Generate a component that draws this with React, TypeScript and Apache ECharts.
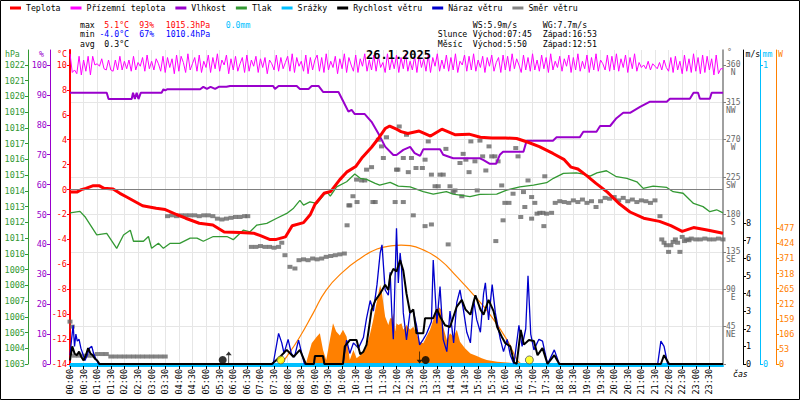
import React, { useEffect, useRef } from "react";
import * as echarts from "echarts";

const FONT = '"DejaVu Sans Mono", monospace';

// ---------- labels ----------
const legendNames = ["Teplota", "Přízemní teplota", "Vlhkost", "Tlak", "Srážky", "Rychlost větru", "Náraz větru", "Směr větru"];
const titleText = "26.1.2025";
const timeLabels = [
  "00:00", "00:30", "01:00", "01:30", "02:00", "02:30", "03:00", "03:30", "04:00", "04:30", "05:00", "05:30",
  "06:00", "06:30", "07:00", "07:30", "08:00", "08:30", "09:00", "09:30", "10:00", "10:30", "11:00", "11:30",
  "12:00", "12:30", "13:00", "13:30", "14:00", "14:30", "15:00", "15:30", "16:00", "16:30", "17:00", "17:30",
  "18:00", "18:30", "19:00", "19:30", "20:00", "20:30", "21:00", "21:30", "22:00", "22:30", "23:00", "23:30",
];
const tempTicks = [-14, -12, -10, -8, -6, -4, -2, 0, 2, 4, 6, 8, 10];
const humTicks = [0, 10, 20, 30, 40, 50, 60, 70, 80, 90, 100];
const pressTicks = [1003, 1004, 1005, 1006, 1007, 1008, 1009, 1010, 1011, 1012, 1013, 1014, 1015, 1016, 1017, 1018, 1019, 1020, 1021, 1022];
const dirTicks = [0, 45, 90, 135, 180, 225, 270, 315, 360];
const dirLabelValues = [45, 90, 135, 180, 225, 270, 315, 360];
const dirNames = ["NE", "E", "SE", "S", "SW", "W", "NW", "N"];
const windTicks = [0, 1, 2, 3, 4, 5, 6, 7, 8];
const rainTicks = [0, 1];
const solarTicks = [0, 53, 106, 159, 212, 265, 318, 371, 424, 477];

const statMax = ["5.1°C", "93%", "1015.3hPa", "0.0mm"];
const statMin = ["-4.0°C", "67%", "1010.4hPa"];
const statAvg = ["0.3°C"];
const windStats = ["WS:5.9m/s", "WG:7.7m/s"];
const sunInfo = ["Slunce", "Východ:07:45", "Západ:16:53"];
const moonInfo = ["Měsíc", "Východ:5:50", "Západ:12:51"];
const sunEvents = ["07:45", "16:53"];
const moonEvents = ["05:50", "12:51"];

// ---------- data ----------
const temperature: [string, number][] = [
  ["00:00", -0.2], ["00:15", -0.2], ["00:25", 0.0], ["00:35", 0.1], ["00:50", 0.3], ["01:05", 0.3], ["01:15", 0.1],
  ["01:35", 0.05], ["01:50", -0.3], ["02:05", -0.6], ["02:25", -1.0], ["02:40", -1.3], ["03:10", -1.5], ["03:30", -1.6],
  ["03:55", -2.0], ["04:15", -2.3], ["04:45", -2.7], ["05:15", -2.85], ["05:40", -3.4], ["06:15", -3.45], ["06:45", -3.5],
  ["07:00", -3.7], ["07:20", -4.0], ["07:35", -4.0], ["07:55", -3.8], ["08:10", -2.9], ["08:35", -2.65], ["08:50", -2.0],
  ["09:00", -1.2], ["09:20", -0.3], ["09:35", -0.15], ["09:55", 0.8], ["10:10", 1.4], ["10:30", 1.85], ["10:45", 2.6],
  ["11:05", 3.4], ["11:20", 4.1], ["11:35", 4.9], ["11:45", 5.1], ["12:00", 4.85], ["12:10", 4.65], ["12:25", 4.5],
  ["12:50", 4.7], ["13:15", 4.3], ["13:40", 4.85], ["14:10", 4.4], ["14:40", 4.45], ["15:05", 4.2], ["15:30", 4.15],
  ["16:00", 4.15], ["16:25", 4.1], ["16:50", 3.8], ["17:15", 3.45], ["17:45", 2.9], ["18:10", 2.4], ["18:25", 1.8],
  ["18:40", 1.65], ["19:00", 1.1], ["19:20", 0.5], ["19:45", -0.2], ["20:10", -1.1], ["20:35", -1.8], ["21:05", -2.3],
  ["21:40", -2.55], ["22:05", -2.9], ["22:30", -3.35], ["22:55", -3.05], ["23:25", -3.25], ["24:00", -3.5],
];

// ground temperature, one value every 5 minutes
const groundTemp: number[] = [
  10.9, 9.4, 9.6, 9.3, 10.7, 9.2, 10.4, 9.5, 10.7, 9.2, 10.7, 10.0,
  10.1, 9.9, 10.5, 9.7, 9.6, 10.4, 9.6, 9.5, 10.4, 9.6, 10.7, 9.6,
  10.3, 9.7, 10.4, 9.5, 10.7, 9.6, 10.2, 9.9, 10.6, 9.5, 10.8, 9.7,
  10.3, 9.6, 10.5, 10.1, 9.5, 10.7, 9.4, 10.6, 9.8, 10.5, 9.3, 10.8,
  9.5, 10.7, 10.2, 9.4, 10.9, 9.6, 10.1, 10.6, 9.5, 10.8, 9.4, 10.3,
  9.8, 10.8, 9.4, 10.6, 9.7, 10.9, 9.5, 10.4, 10.0, 10.8, 9.3, 10.5,
  9.6, 10.7, 9.5, 10.1, 10.6, 9.4, 10.8, 9.5, 10.4, 9.9, 10.7, 9.4,
  10.5, 9.8, 10.6, 9.3, 10.4, 10.1, 9.6, 10.8, 9.5, 10.6, 9.7, 10.2,
  10.7, 9.5, 10.9, 9.4, 10.6, 9.9, 10.3, 9.5, 10.8, 9.3, 10.6, 9.6,
  10.4, 10.8, 9.5, 10.6, 9.4, 10.9, 9.6, 10.3, 9.8, 10.7, 9.3, 10.5,
  9.7, 10.9, 9.4, 10.6, 10.0, 9.5, 10.8, 9.4, 10.5, 9.9, 10.9, 9.5,
  10.4, 9.6, 10.8, 9.5, 10.7, 9.8, 10.2, 9.4, 10.9, 9.6, 10.5, 9.7,
  10.8, 9.4, 10.6, 9.7, 10.9, 9.5, 10.3, 9.6, 10.7, 9.4, 10.8, 9.8,
  10.5, 9.5, 10.8, 9.4, 10.6, 9.9, 10.9, 9.5, 10.4, 9.7, 10.8, 9.5,
  10.6, 9.6, 10.9, 9.4, 10.3, 10.0, 10.8, 9.5, 10.7, 9.6, 10.9, 9.5,
  10.4, 9.8, 10.7, 9.4, 10.6, 9.9, 10.8, 9.5, 10.2, 10.6, 9.4, 10.8,
  9.6, 10.7, 9.5, 10.9, 9.7, 10.5, 10.0, 9.4, 10.8, 9.6, 10.6, 9.5,
  10.9, 9.6, 10.4, 9.5, 10.8, 9.7, 10.6, 9.4, 10.9, 9.6, 10.3, 9.8,
  10.7, 9.5, 10.5, 9.9, 10.8, 9.4, 10.6, 9.6, 10.9, 9.5, 10.3, 9.7,
  10.8, 9.4, 10.6, 9.6, 10.9, 9.5, 10.4, 10.1, 9.6, 10.8, 9.5, 10.7,
  9.6, 10.9, 9.5, 10.5, 9.8, 10.8, 9.4, 10.6, 9.7, 10.9, 9.5, 10.2,
  9.8, 10.0, 9.7, 10.3, 9.6, 10.1, 9.9, 9.7, 10.2, 9.6, 10.4, 9.8,
  9.5, 10.6, 9.4, 10.7, 9.6, 10.3, 9.3, 10.8, 9.5, 10.5, 9.4, 10.9,
  9.5, 10.6, 9.3, 10.8, 9.4, 10.7, 9.6, 10.5, 9.2, 10.8, 9.3, 9.7,
  9.7,
];

const humidity: [string, number][] = [
  ["00:00", 90.7], ["01:21", 90.7], ["01:25", 88.6], ["02:16", 88.6], ["02:19", 90.7], ["02:23", 88.6], ["02:27", 90.7],
  ["02:31", 88.6], ["02:36", 90.7], ["03:22", 90.7], ["03:26", 91.9], ["03:30", 91.5], ["03:35", 91.9], ["04:47", 91.9],
  ["04:54", 92.7], ["05:02", 92.0], ["05:10", 92.7], ["05:20", 92.0], ["05:28", 92.7], ["05:45", 92.7], ["05:53", 93.0],
  ["07:28", 93.0], ["07:32", 92.0], ["07:40", 93.0], ["08:20", 93.0], ["08:27", 92.0], ["08:46", 92.0], ["08:53", 93.0],
  ["09:08", 93.0], ["09:18", 91.0], ["09:52", 91.0], ["10:03", 87.7], ["10:14", 84.4], ["10:21", 85.0], ["10:28", 83.6],
  ["10:50", 83.6], ["11:05", 81.0], ["11:20", 77.1], ["11:35", 72.7], ["11:53", 69.9], ["12:00", 69.9], ["12:15", 71.6],
  ["12:30", 72.6], ["12:40", 70.5], ["12:52", 69.6], ["12:59", 71.8], ["13:36", 71.8], ["13:43", 70.0], ["14:05", 68.8],
  ["15:04", 68.8], ["15:12", 68.2], ["15:25", 67.0], ["15:40", 67.0], ["15:48", 70.0], ["15:55", 71.0], ["16:40", 71.0],
  ["16:47", 74.7], ["17:45", 74.7], ["17:53", 75.8], ["18:44", 75.8], ["18:52", 77.7], ["19:21", 77.7], ["19:29", 79.6],
  ["19:51", 79.6], ["20:05", 82.2], ["20:20", 84.0], ["20:35", 84.0], ["20:57", 86.0], ["21:18", 87.7], ["21:56", 87.7],
  ["22:03", 88.7], ["22:47", 88.7], ["22:55", 90.7], ["23:05", 90.7], ["23:09", 88.7], ["23:31", 88.7], ["23:35", 90.7],
  ["24:00", 90.7],
];

const pressure: [string, number][] = [
  ["00:00", 1012.6], ["00:22", 1012.7], ["00:33", 1012.36], ["00:59", 1011.2], ["01:21", 1011.3], ["01:43", 1010.35],
  ["01:58", 1011.2], ["02:13", 1011.5], ["02:20", 1010.8], ["02:42", 1010.8], ["02:53", 1011.1], ["03:00", 1010.35],
  ["03:15", 1010.67], ["03:26", 1010.35], ["03:41", 1010.67], ["04:02", 1010.67], ["04:25", 1011.0], ["04:40", 1011.0],
  ["04:54", 1010.8], ["05:16", 1011.1], ["05:46", 1011.1], ["06:00", 1010.9], ["06:22", 1011.5], ["06:37", 1011.4],
  ["06:52", 1011.83], ["07:14", 1011.94], ["07:36", 1012.26], ["07:58", 1012.57], ["08:13", 1012.9], ["08:27", 1013.4],
  ["08:35", 1013.1], ["08:49", 1013.3], ["09:04", 1013.2], ["09:26", 1013.95], ["09:34", 1013.67], ["09:48", 1014.26],
  ["10:10", 1014.58], ["10:28", 1015.07], ["10:40", 1014.8], ["10:54", 1014.73], ["11:13", 1014.48], ["11:23", 1014.37],
  ["11:46", 1014.54], ["12:04", 1014.3], ["12:30", 1014.26], ["12:59", 1013.95], ["13:21", 1013.8], ["13:50", 1013.95],
  ["14:05", 1013.8], ["14:42", 1013.63], ["15:04", 1013.78], ["15:41", 1013.8], ["16:03", 1014.05], ["16:32", 1014.26],
  ["17:02", 1014.37], ["17:31", 1014.52], ["17:46", 1014.8], ["18:08", 1015.11], ["18:37", 1015.15], ["18:52", 1015.07],
  ["19:07", 1014.94], ["19:22", 1015.15], ["19:43", 1015.28], ["20:05", 1014.9], ["20:28", 1014.8], ["20:50", 1014.58],
  ["21:04", 1014.16], ["21:26", 1014.3], ["21:56", 1014.22], ["22:10", 1013.95], ["22:32", 1013.85], ["22:55", 1013.2],
  ["23:16", 1013.0], ["23:31", 1012.68], ["23:46", 1012.8], ["24:00", 1012.6],
];

const rainfall: [string, number][] = [["00:00", 0], ["12:00", 0], ["24:00", 0]];

const windSpeed: [string, number][] = [
  ["00:00", 0.2], ["00:05", 1.0], ["00:10", 0.6], ["00:15", 0.5], ["00:20", 0.7], ["00:25", 0.4], ["00:30", 0.2],
  ["00:35", 0.5], ["00:40", 0.9], ["00:45", 0.6], ["00:50", 0.5], ["00:55", 0.3], ["01:00", 0.2], ["01:05", 0],
  ["07:25", 0], ["07:43", 0.4], ["07:58", 0.8], ["08:13", 0.4], ["08:27", 0.8], ["08:40", 0], ["08:58", 0],
  ["09:00", 0.45], ["09:18", 0.45], ["09:21", 0], ["10:02", 0], ["10:06", 1.0], ["10:17", 1.36], ["10:32", 1.36],
  ["10:40", 0.55], ["10:47", 0.7], ["10:54", 1.1], ["11:05", 3.07], ["11:13", 3.6], ["11:24", 4.0], ["11:35", 4.5],
  ["11:42", 4.2], ["11:46", 5.0], ["11:53", 5.4], ["12:00", 5.25], ["12:08", 5.9], ["12:15", 5.3], ["12:22", 4.0],
  ["12:30", 2.9], ["12:37", 3.1], ["12:44", 1.74], ["12:59", 1.74], ["13:03", 2.6], ["13:21", 2.6], ["13:29", 3.1],
  ["13:36", 2.7], ["13:47", 2.2], ["13:58", 2.1], ["14:13", 3.26], ["14:24", 3.64], ["14:32", 3.1], ["14:43", 2.8],
  ["14:54", 3.9], ["15:05", 3.1], ["15:12", 2.8], ["15:23", 3.64], ["15:34", 3.0], ["15:42", 2.1], ["15:53", 1.5],
  ["16:00", 1.18], ["16:11", 1.0], ["16:19", 0.1], ["16:25", 0], ["16:34", 1.93], ["16:41", 1.1], ["16:52", 1.36],
  ["17:03", 1.3], ["17:11", 0.5], ["17:22", 0.9], ["17:33", 0], ["17:48", 0.5], ["17:59", 0], ["21:43", 0],
  ["21:50", 0.5], ["22:01", 0], ["24:00", 0],
];

const windGust: [string, number][] = [
  ["00:00", 0.5], ["00:03", 1.3], ["00:07", 2.2], ["00:10", 1.0], ["00:13", 1.7], ["00:16", 1.3], ["00:20", 1.4],
  ["00:24", 0.9], ["00:28", 0.6], ["00:33", 0.2], ["00:38", 0.5], ["00:43", 0.9], ["00:48", 1.0], ["00:52", 0.6],
  ["00:57", 0.3], ["01:03", 0], ["07:28", 0], ["07:40", 1.74], ["07:47", 1.2], ["07:52", 0.6], ["08:01", 1.4],
  ["08:08", 0.6], ["08:15", 0.4], ["08:24", 1.36], ["08:31", 0.6], ["08:37", 0], ["08:58", 0], ["09:00", 0.45],
  ["09:18", 0.45], ["09:21", 0], ["10:02", 0], ["10:10", 1.36], ["10:17", 0.6], ["10:25", 1.2], ["10:36", 0.9],
  ["10:47", 1.5], ["10:54", 2.6], ["11:02", 3.6], ["11:09", 3.0], ["11:17", 4.5], ["11:24", 6.3], ["11:28", 6.76],
  ["11:35", 4.2], ["11:42", 3.9], ["11:46", 5.2], ["11:50", 2.7], ["11:53", 1.4], ["11:57", 5.0], ["12:00", 7.7],
  ["12:04", 4.6], ["12:08", 6.3], ["12:11", 5.5], ["12:15", 2.9], ["12:22", 1.36], ["12:30", 3.0], ["12:37", 3.0],
  ["12:44", 2.2], ["12:51", 1.08], ["12:59", 1.4], ["13:06", 1.7], ["13:17", 2.4], ["13:21", 5.9], ["13:29", 2.3],
  ["13:36", 4.4], ["13:43", 1.4], ["13:51", 0.7], ["13:58", 3.0], ["14:06", 1.2], ["14:13", 3.5], ["14:20", 4.2],
  ["14:28", 3.0], ["14:35", 1.8], ["14:43", 1.2], ["14:50", 3.64], ["14:57", 2.5], ["15:05", 1.8], ["15:12", 4.0],
  ["15:16", 4.6], ["15:23", 2.5], ["15:31", 4.5], ["15:38", 2.9], ["15:49", 1.4], ["15:56", 0.7], ["16:04", 1.4],
  ["16:11", 0.5], ["16:19", 0], ["16:30", 2.2], ["16:37", 1.0], ["16:45", 2.0], ["16:50", 5.0], ["16:56", 1.7],
  ["17:03", 0.8], ["17:14", 1.4], ["17:22", 1.3], ["17:33", 0], ["17:48", 0.8], ["17:59", 0], ["21:36", 0],
  ["21:43", 1.3], ["21:50", 1.0], ["21:58", 0], ["24:00", 0],
];

const windDirection: [string, number][] = [
  ["00:00", 51], ["00:05", 45], ["00:10", 10], ["00:20", 10], ["00:30", 10], ["00:40", 10], ["00:50", 10], ["01:00", 12],
  ["01:10", 12], ["01:20", 12], ["01:30", 9], ["01:40", 9], ["01:50", 9], ["02:00", 9], ["02:10", 9], ["02:20", 9],
  ["02:30", 9], ["02:40", 9], ["02:50", 9], ["03:00", 9], ["03:10", 9], ["03:20", 9], ["03:30", 9],
  ["03:35", 178], ["03:45", 179], ["03:55", 178], ["04:05", 179], ["04:15", 179], ["04:25", 179], ["04:35", 179],
  ["04:45", 178], ["04:55", 179], ["05:05", 179], ["05:15", 178], ["05:25", 175], ["05:35", 174], ["05:45", 175],
  ["05:55", 176], ["06:05", 177], ["06:15", 177], ["06:25", 178], ["06:32", 178],
  ["06:40", 141], ["06:50", 141], ["07:00", 142], ["07:10", 141], ["07:20", 141], ["07:30", 140], ["07:40", 141],
  ["07:47", 146], ["07:54", 131], ["08:05", 117], ["08:16", 115], ["08:25", 125], ["08:35", 126], ["08:45", 125],
  ["08:55", 127], ["09:05", 126], ["09:15", 127], ["09:25", 129], ["09:35", 130], ["09:45", 131], ["09:55", 132],
  ["10:05", 133], ["10:11", 167],
  ["10:15", 191], ["10:17", 191], ["10:24", 202], ["10:32", 222], ["10:33", 195], ["10:43", 221], ["10:50", 221],
  ["10:54", 234], ["11:05", 237], ["11:08", 195], ["11:13", 195], ["11:20", 270], ["11:27", 262], ["11:31", 248],
  ["11:38", 273], ["11:57", 195], ["12:00", 234], ["12:03", 234], ["12:06", 286], ["12:15", 248], ["12:15", 195],
  ["12:22", 276], ["12:26", 231], ["12:33", 248], ["12:37", 179], ["12:43", 236], ["12:57", 236], ["13:03", 166],
  ["13:03", 246], ["13:10", 268], ["13:17", 168], ["13:17", 228], ["13:25", 214], ["13:32", 214], ["13:36", 228],
  ["13:43", 228], ["13:49", 259], ["13:54", 144], ["13:58", 214], ["14:05", 207], ["14:09", 209], ["14:20", 242],
  ["14:24", 202], ["14:27", 253], ["14:33", 246], ["14:40", 231], ["14:44", 268], ["14:53", 244], ["14:58", 209],
  ["15:04", 269], ["15:10", 250], ["15:17", 233], ["15:24", 262], ["15:30", 250], ["15:37", 250], ["15:39", 148],
  ["15:44", 244], ["15:52", 215], ["15:55", 173], ["15:59", 194], ["16:08", 194], ["16:17", 205], ["16:23", 260],
  ["16:28", 250], ["16:34", 177], ["16:40", 207], ["16:43", 189], ["16:50", 221], ["16:58", 201], ["16:58", 175],
  ["17:05", 194], ["17:10", 181], ["17:16", 182], ["17:23", 182], ["17:25", 166], ["17:27", 226], ["17:31", 181],
  ["17:42", 182],
  ["17:50", 194], ["18:00", 196], ["18:10", 195], ["18:20", 194], ["18:30", 197], ["18:40", 195], ["18:50", 198],
  ["19:00", 194], ["19:10", 196], ["19:20", 189], ["19:30", 196], ["19:40", 200], ["19:50", 199], ["20:00", 201],
  ["20:10", 197], ["20:20", 200], ["20:30", 196], ["20:40", 198], ["20:50", 195], ["21:00", 197], ["21:10", 196],
  ["21:20", 194], ["21:30", 197], ["21:41", 178],
  ["21:45", 150], ["21:50", 146], ["21:55", 143], ["22:00", 135], ["22:05", 143], ["22:10", 147], ["22:15", 150],
  ["22:20", 146], ["22:25", 135], ["22:30", 153], ["22:35", 148], ["22:40", 150], ["22:45", 149], ["22:50", 151],
  ["23:00", 150], ["23:10", 150], ["23:20", 151], ["23:30", 150], ["23:40", 150], ["23:50", 151], ["24:00", 150],
];

const solarRadiation: [string, number][] = [
  ["08:40", 0], ["08:53", 73], ["09:04", 96], ["09:11", 108], ["09:18", 49], ["09:25", 14], ["09:33", 84],
  ["09:40", 143], ["09:47", 114], ["09:55", 100], ["10:02", 120], ["10:10", 96], ["10:17", 14], ["10:25", 49],
  ["10:32", 20], ["10:40", 31], ["10:47", 40], ["10:54", 61], ["11:02", 108], ["11:08", 150], ["11:13", 190],
  ["11:20", 248], ["11:24", 278], ["11:28", 248], ["11:35", 166], ["11:42", 137], ["11:46", 161], ["11:50", 160],
  ["11:53", 178], ["11:57", 114], ["12:00", 143], ["12:04", 137], ["12:11", 143], ["12:15", 120], ["12:22", 137],
  ["12:30", 120], ["12:37", 131], ["12:44", 108], ["12:51", 78], ["12:59", 73], ["13:06", 96], ["13:14", 120],
  ["13:21", 155], ["13:28", 185], ["13:32", 201], ["13:40", 190], ["13:43", 131], ["13:51", 84], ["13:58", 108],
  ["14:06", 96], ["14:13", 120], ["14:20", 78], ["14:31", 55], ["14:43", 37], ["14:57", 28], ["15:08", 20],
  ["15:19", 14], ["15:42", 8], ["16:11", 4], ["16:22", 0],
];

const solarTheory: [string, number][] = [
  ["07:45", 0], ["07:58", 26], ["08:27", 96], ["08:56", 178], ["09:25", 260], ["10:02", 324], ["10:40", 371],
  ["11:17", 404], ["11:53", 416], ["12:10", 418], ["12:30", 416], ["12:59", 401], ["13:36", 366], ["14:13", 307],
  ["14:50", 243], ["15:27", 172], ["16:04", 84], ["16:26", 14], ["16:35", 0],
];

// ---------- helpers ----------
const toMin = (t: string) => {
  const [h, m] = t.split(":").map(Number);
  return h * 60 + m;
};
const toXY = (arr: [string, number][]) => arr.map(([t, v]) => [toMin(t), v]);

const C = {
  temp: "#ff0000",
  ground: "#ff00ff",
  hum: "#9900cc",
  press: "#339933",
  rain: "#00bfff",
  wind: "#000000",
  gust: "#0000cc",
  dir: "#666666",
  solar: "#ff8000",
  grid: "#e6e6e6",
};

function yAx(o: any) {
  return {
    type: "value",
    min: o.min,
    max: o.max,
    interval: o.interval,
    position: o.position,
    offset: o.offset,
    axisLine: { show: true, onZero: false, lineStyle: { color: o.color, width: o.lineWidth ?? 1 } },
    axisTick: { show: true, length: 3, customValues: o.ticks, lineStyle: { color: o.color } },
    axisLabel: {
      show: true,
      customValues: o.labels ?? o.ticks,
      color: o.labelColor ?? o.color,
      fontFamily: FONT,
      fontSize: 8.5,
      margin: 3,
      formatter: o.formatter ?? ((v: number) => String(v)),
      rich: o.rich,
    },
    splitLine: { show: !!o.split, showMaxLine: false, showMinLine: false, lineStyle: { color: C.grid, width: 1 } },
  };
}

function txt(text: string, x: number, y: number, fill: string, extra: any = {}) {
  return {
    type: "text",
    x,
    y,
    silent: true,
    style: { text, fill, fontFamily: FONT, fontSize: 8.2, verticalAlign: "middle", align: "left", ...extra },
  };
}

export default function App() {
  const ref = useRef<HTMLDivElement>(null);

  useEffect(() => {
    if (!ref.current) return;
    const chart = echarts.init(ref.current, null, { renderer: "svg" });

    const arrowUp = "path://M3,0 L0,4 L2.6,4 L2.6,13 L3.4,13 L3.4,4 L6,4 Z";
    const dirStyle = { fontSize: 8, lineHeight: 8, fontFamily: FONT, color: "#666" };

    const option: any = {
      animation: false,
      backgroundColor: "#ffffff",
      textStyle: { fontFamily: FONT },
      title: {
        text: titleText,
        left: 366,
        top: 49,
        padding: 0,
        textStyle: { fontFamily: FONT, fontSize: 12, fontWeight: "bold", color: "#000" },
      },
      legend: {
        data: legendNames,
        left: 10,
        top: 4,
        padding: 0,
        itemWidth: 11,
        itemHeight: 3,
        itemGap: 10,
        icon: "rect",
        selectedMode: false,
        textStyle: { fontFamily: FONT, fontSize: 8.2, color: "#000" },
      },
      grid: { left: 70, right: 77, top: 50, bottom: 36, containLabel: false, outerBoundsMode: "none" },
      xAxis: {
        type: "value",
        min: 0,
        max: 1440,
        interval: 30,
        offset: 2,
        axisLine: { show: true, onZero: false, lineStyle: { color: C.rain, width: 2 } },
        axisTick: { show: true, length: 3, customValues: timeLabels.map(toMin), lineStyle: { color: "#000" } },
        axisLabel: {
          customValues: timeLabels.map(toMin),
          rotate: 90,
          formatter: (v: number) => timeLabels[Math.round(v / 30)] ?? "",
          fontFamily: FONT,
          fontSize: 8.5,
          color: "#000",
          margin: 3,
        },
        splitLine: { show: true, lineStyle: { color: C.grid, width: 1 } },
      },
      yAxis: [
        yAx({ min: -14, max: 11.204, interval: 2, position: "left", offset: 0, color: C.temp, lineWidth: 2, ticks: tempTicks }),
        yAx({ min: 0, max: 105.017, interval: 10, position: "left", offset: 20, color: C.hum, ticks: humTicks }),
        yAx({ min: 1003, max: 1022.953, interval: 1, position: "left", offset: 42, color: C.press, ticks: pressTicks }),
        yAx({
          min: 0,
          max: 378.06,
          interval: 45,
          position: "right",
          offset: 0,
          color: "#808080",
          labelColor: "#666",
          lineWidth: 1.5,
          ticks: dirTicks,
          labels: dirLabelValues,
          split: true,
          formatter: (v: number) => {
            const i = dirLabelValues.indexOf(v);
            const name = i >= 0 ? dirNames[i].padStart(2, " ") : "";
            return `{e| }\n{n|${v}}\n{d|${name}}`;
          },
          rich: { e: dirStyle, n: dirStyle, d: dirStyle },
        }),
        yAx({ min: 0, max: 17.816, interval: 1, position: "right", offset: 20, color: C.wind, ticks: windTicks }),
        yAx({ min: 0, max: 1.0502, interval: 1, position: "right", offset: 37, color: C.rain, ticks: rainTicks }),
        yAx({ min: 0, max: 1103.7, interval: 53, position: "right", offset: 53, color: C.solar, ticks: solarTicks }),
      ],
      series: [
        {
          name: "Sluneční svit",
          type: "line",
          yAxisIndex: 6,
          data: toXY(solarRadiation),
          symbol: "none",
          lineStyle: { width: 0, color: C.solar },
          itemStyle: { color: C.solar },
          areaStyle: { color: C.solar, opacity: 1 },
          silent: true,
        },
        {
          name: "Teoretický svit",
          type: "line",
          yAxisIndex: 6,
          data: toXY(solarTheory),
          smooth: 0.5,
          symbol: "none",
          lineStyle: { width: 1.2, color: C.solar },
          itemStyle: { color: C.solar },
          silent: true,
        },
        {
          name: "Směr větru",
          type: "scatter",
          yAxisIndex: 3,
          data: toXY(windDirection),
          symbol: "rect",
          symbolSize: [5, 4],
          itemStyle: { color: C.dir },
          silent: true,
        },
        {
          name: "Vlhkost",
          type: "line",
          yAxisIndex: 1,
          data: toXY(humidity),
          symbol: "none",
          lineStyle: { width: 2, color: C.hum },
          itemStyle: { color: C.hum },
          silent: true,
        },
        {
          name: "Tlak",
          type: "line",
          yAxisIndex: 2,
          data: toXY(pressure),
          symbol: "none",
          lineStyle: { width: 1.3, color: C.press },
          itemStyle: { color: C.press },
          silent: true,
        },
        {
          name: "Přízemní teplota",
          type: "line",
          yAxisIndex: 0,
          data: groundTemp.map((v, i) => [i * 5, v]),
          symbol: "none",
          lineStyle: { width: 1, color: C.ground },
          itemStyle: { color: C.ground },
          silent: true,
        },
        {
          name: "Srážky",
          type: "line",
          yAxisIndex: 5,
          data: toXY(rainfall),
          symbol: "none",
          lineStyle: { width: 2, color: C.rain },
          itemStyle: { color: C.rain },
          silent: true,
        },
        {
          name: "Teplota",
          type: "line",
          yAxisIndex: 0,
          data: toXY(temperature),
          symbol: "none",
          lineStyle: { width: 3, color: C.temp },
          itemStyle: { color: C.temp },
          silent: true,
          markLine: {
            silent: true,
            symbol: "none",
            label: { show: false },
            lineStyle: { color: "#808080", width: 1, type: "solid" },
            data: [{ yAxis: 0 }],
          },
        },
        {
          name: "Náraz větru",
          type: "line",
          yAxisIndex: 4,
          data: toXY(windGust),
          symbol: "none",
          lineStyle: { width: 1.3, color: C.gust },
          itemStyle: { color: C.gust },
          silent: true,
        },
        {
          name: "Rychlost větru",
          type: "line",
          yAxisIndex: 4,
          data: toXY(windSpeed),
          symbol: "none",
          lineStyle: { width: 2, color: C.wind },
          itemStyle: { color: C.wind },
          silent: true,
        },
        {
          name: "Slunce",
          type: "scatter",
          yAxisIndex: 4,
          z: 10,
          data: sunEvents.map((t) => [toMin(t), 0.23]),
          symbol: "circle",
          symbolSize: 8,
          itemStyle: { color: "#ffff00", borderColor: "#555", borderWidth: 1 },
          silent: true,
        },
        {
          name: "Měsíc",
          type: "scatter",
          yAxisIndex: 4,
          z: 10,
          data: moonEvents.map((t, i) => ({ value: [toMin(t), 0.23], symbolOffset: [i === 0 ? -6 : 6, 0] })),
          symbol: "circle",
          symbolSize: 8,
          itemStyle: { color: "#000" },
          silent: true,
        },
        {
          name: "Měsíc šipka",
          type: "scatter",
          yAxisIndex: 4,
          z: 10,
          data: moonEvents.map((t, i) => ({ value: [toMin(t), 0.37], symbolRotate: i === 0 ? 0 : 180 })),
          symbol: arrowUp,
          symbolSize: [6, 12],
          itemStyle: { color: "#000" },
          silent: true,
        },
      ],
      graphic: [
        {
          type: "rect",
          silent: true,
          shape: { x: 0.5, y: 0.5, width: 799, height: 399 },
          style: { fill: "none", stroke: "#000", lineWidth: 1 },
        },
        txt("max", 80, 24.5, "#000"),
        txt(statMax[0], 129, 24.5, C.temp, { align: "right" }),
        txt(statMax[1], 139.3, 24.5, C.temp),
        txt(statMax[2], 165.7, 24.5, C.temp),
        txt(statMax[3], 225.7, 24.5, C.rain),
        txt("min", 80, 34, "#000"),
        txt(statMin[0], 129, 34, "#0000ff", { align: "right" }),
        txt(statMin[1], 139.3, 34, "#0000ff"),
        txt(statMin[2], 165.7, 34, "#0000ff"),
        txt("avg", 80, 43.5, "#000"),
        txt(statAvg[0], 129, 43.5, "#000", { align: "right" }),
        txt(windStats[0], 472.7, 24.5, "#000"),
        txt(windStats[1], 542.7, 24.5, "#000"),
        txt(sunInfo[0], 437.7, 34, "#000"),
        txt(sunInfo[1], 472.7, 34, "#000"),
        txt(sunInfo[2], 542.7, 34, "#000"),
        txt(moonInfo[0], 437.7, 43.5, "#000"),
        txt(moonInfo[1], 472.7, 43.5, "#000"),
        txt(moonInfo[2], 542.7, 43.5, "#000"),
        txt("hPa", 5, 54, C.press),
        txt("%", 39, 54, C.hum),
        txt("°C", 57, 54, C.temp),
        txt("°", 727, 52, "#666"),
        txt("m/s", 745.5, 54, "#000"),
        txt("mm", 762.5, 54, C.rain),
        txt("W", 778, 54, C.solar),
        txt("čas", 733, 374, "#000", { fontStyle: "italic" }),
      ],
    };

    chart.setOption(option);
    return () => chart.dispose();
  }, []);

  return <div ref={ref} style={{ position: "absolute", left: 0, top: 0, width: 800, height: 400 }} />;
}
